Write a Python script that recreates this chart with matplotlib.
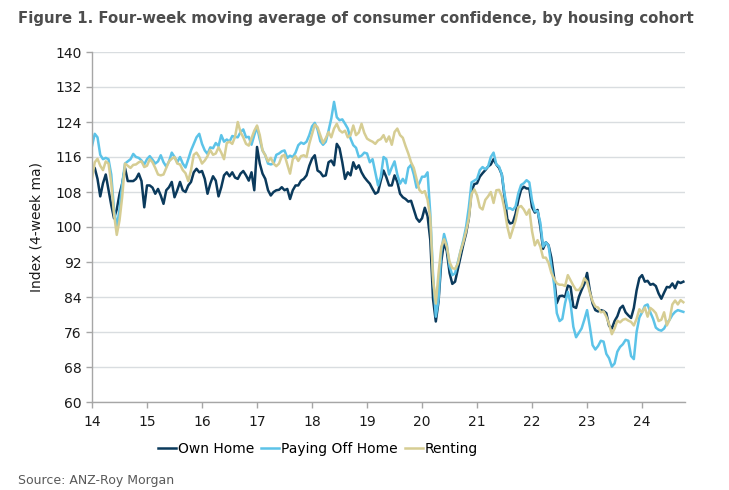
"""Four-week moving average of consumer confidence by housing cohort (ANZ-Roy Morgan)."""
import matplotlib
matplotlib.use("Agg")
import matplotlib.pyplot as plt  # noqa: E402
import numpy as np  # noqa: E402

# index values, one row per year (14 .. 24), sampled every 0.05 of a year
own_home = [
    114, 113.5, 111, 107, 110, 112, 108.5, 105, 102, 104, 107.5, 110, 113.5, 110.5, 110.5, 110.5, 111, 112.2, 110.5, 104.5,
    109.5, 109.5, 109, 107.6, 108.7, 107.2, 105.3, 108.4, 109.1, 110.3, 106.8, 108.4, 110.3, 108.4, 108, 109.5, 110.3, 112.5, 113.3, 112.5,
    112.8, 111, 107.6, 109.9, 111.6, 110.6, 107, 109.1, 111.8, 112.5, 111.6, 112.5, 111.3, 111, 112.2, 112.8, 111.8, 110.6, 112.5, 108.4,
    118.3, 114.5, 112.2, 111, 108.4, 107.2, 108, 108.4, 108.5, 109.1, 108.4, 108.7, 106.4, 108.4, 109.5, 109.5, 110.6, 111, 111.8, 114,
    115.6, 116.4, 112.9, 112.5, 111.6, 111.8, 114.8, 115.2, 114.1, 119, 118, 114.8, 111, 112.5, 111.8, 114.8, 113.3, 114.1, 112.5, 111.4,
    110.6, 109.9, 108.7, 107.6, 108, 110.6, 112.9, 111.4, 109.5, 109.5, 111.8, 110.3, 107.6, 106.8, 106.4, 105.8, 106, 104, 102, 101.2,
    102, 104.4, 102.5, 97, 83.5, 78.4, 83, 92.2, 96.5, 94.5, 89.5, 87, 87.5, 90.3, 93, 96, 98.5, 102, 108.3, 109.8,
    110, 111.5, 112.3, 113, 113.8, 114.3, 115.5, 114.3, 113.5, 112, 107, 101.8, 100.8, 101, 103, 106.2, 108.5, 109.2, 108.8, 108.8,
    104.5, 103.3, 103.9, 100, 95, 96.5, 95.8, 93, 88.5, 82.6, 84.2, 84.3, 84, 86.6, 86.3, 81.8, 81.5, 84, 85.6, 87,
    89.5, 85.5, 82.5, 81, 80.7, 81, 80.8, 80.3, 77.4, 76.8, 78.5, 79.6, 81.4, 82, 80.5, 79.8, 79.2, 81.5, 85.5, 88.3,
    89, 87.5, 87.7, 86.8, 87, 86.5, 84.8, 83.6, 85, 86.3, 86.2, 87.1, 86, 87.5, 87.2, 87.5,
]
paying_off = [
    118.5, 121.3, 120.5, 116.5, 115.5, 115.8, 115.5, 112, 104, 100, 104, 110, 114.5, 115, 115.5, 116.7, 116, 115.8, 115.2, 114.3,
    115.5, 116.2, 115.4, 114.5, 115, 116.4, 114.8, 113.8, 115, 117, 116, 114.8, 116, 114.5, 113.6, 115.5, 117.5, 119, 120.5, 121.3,
    119, 117.5, 116.7, 118.2, 118, 119.2, 118.5, 121, 119.5, 120, 119.5, 120.8, 120.6, 120.5, 121.7, 122.3, 120.5, 120.6, 118.8, 121,
    122.9, 120, 117.5, 116.4, 114.5, 114.3, 114.5, 116.5, 116.8, 117.3, 117.5, 115.8, 116.3, 116, 117, 118.7, 119.3, 119, 119.5, 121,
    123, 123.8, 122.3, 119.6, 118.8, 119.5, 122, 124.8, 128.6, 125.1, 124.4, 124.6, 123.6, 122.5, 120.2, 118.7, 118.1, 116, 116.3, 117,
    116.8, 114.8, 115.5, 112.5, 109.5, 111.5, 116, 115.5, 112, 113.6, 115, 112, 109.9, 111, 110, 113.5, 114.2, 112, 109, 110,
    111.5, 111.5, 112.5, 103, 89, 79.5, 83.5, 94.5, 98.4, 96, 91, 89, 89.4, 92, 94.5, 97, 100, 104.5, 110.2, 110.6,
    111, 113, 113.7, 113.2, 113.8, 116, 117, 114.3, 113.8, 112, 107.5, 104.2, 104.3, 103.9, 104.7, 107.7, 109.6, 110, 110.7, 110.2,
    106, 103.6, 103.6, 101, 95.5, 96.5, 95.7, 91, 87, 80.3, 78.5, 79, 82.6, 85.2, 82.5, 77.2, 74.8, 75.8, 76.8, 78.8,
    81, 77.2, 73, 72, 72.8, 74, 73.8, 71, 70, 68.1, 68.8, 71.5, 72.6, 73.2, 74.2, 74, 70.5, 69.8, 76, 79.3,
    80.5, 82, 82.3, 80.5, 79, 77, 76.5, 76.3, 76.8, 78, 78.8, 79.9, 80.6, 81, 80.8, 80.6,
]
renting = [
    111, 114.8, 115.6, 114, 113, 115, 114.5, 110, 103, 98.2, 101.5, 107, 114.5, 114, 113.5, 114.2, 114.3, 114.8, 115, 113.7,
    114, 115.5, 114.8, 113.5, 112, 111.8, 112, 113.5, 115, 115.6, 116, 114.5, 114.3, 113, 112.3, 110.5, 113, 116.5, 117, 116,
    114.5, 115.2, 116.2, 117.6, 116.5, 116.8, 118.2, 117, 115.5, 119.2, 119.5, 119, 120.6, 124, 121.7, 120.5, 119, 118.6, 120.3, 122,
    123.2, 121, 117.5, 116.4, 115, 115.8, 114.5, 113.9, 114.5, 116.2, 116.5, 114.3, 112.2, 115.5, 116.2, 115.1, 116.2, 116.4, 116, 119,
    121.2, 123.4, 122.8, 121, 119.2, 120.3, 121.7, 120.5, 122.5, 123.6, 122.1, 121.6, 122, 120.5, 121, 123.2, 121, 121.6, 123.6, 121.5,
    120.2, 119.8, 119.5, 119, 119.8, 120.1, 121, 119.5, 120.7, 118.8, 121.7, 122.5, 121, 120.4, 118.5, 116.8, 114.8, 113.5, 111, 108.5,
    107.8, 108.2, 106.2, 102, 88, 82.5, 89.5, 95.5, 97.2, 95.5, 92, 90.6, 90.4, 91.6, 94.5, 96.5, 99, 102, 107.5, 108.6,
    107.2, 104.5, 104, 106.2, 107, 108, 105.5, 108.4, 108.5, 107, 104, 100.1, 97.5, 99.5, 101.5, 104.5, 104.8, 104, 102.8, 104,
    99, 95.8, 97, 95.5, 93, 93, 91.8, 89.5, 88.2, 87.1, 86.8, 86.8, 86.5, 89, 87.8, 86.6, 85.6, 85.6, 86.5, 88.3,
    87.5, 85, 83, 81.8, 81.6, 80.5, 80.7, 79.5, 77.8, 75.5, 76.8, 78.6, 78.2, 78.8, 79, 78.6, 78.3, 77.5, 79, 81.2,
    80.5, 81.6, 79.5, 81.5, 81, 80.3, 78.5, 78.8, 80.5, 77.5, 78.8, 82.3, 83.2, 82.3, 83.3, 82.8,
]
years = 14 + 0.05 * np.arange(len(own_home))

series_names = ["Own Home", "Paying Off Home", "Renting"]
series_colors = ["#0b3a5c", "#5cc3e8", "#d6cd93"]
year_ticks = list(range(14, 25))
index_ticks = list(range(60, 141, 8))

fig = plt.figure(figsize=(7.29, 4.90), dpi=100)
ax = fig.add_axes([92 / 729, 88 / 490, 593 / 729, 350 / 490])

for vals, name, col in zip([own_home, paying_off, renting], series_names, series_colors):
    ax.plot(years, vals, color=col, lw=1.8, label=name, solid_joinstyle="round")

ax.set_xlim(14, 24.78)
ax.set_ylim(60, 140)
ax.set_xticks(year_ticks)
ax.set_xticklabels([str(y) for y in year_ticks])
ax.set_yticks(index_ticks)
ax.grid(True, axis="y", color="#d9dde0", lw=1.0)
ax.set_axisbelow(True)
for side in ("top", "right"):
    ax.spines[side].set_visible(False)
for side in ("left", "bottom"):
    ax.spines[side].set_color("#a6a6a6")
    ax.spines[side].set_linewidth(1.0)
ax.tick_params(axis="both", colors="#a6a6a6", labelcolor="#1a1a1a", labelsize=10, length=4, width=1)
ax.tick_params(axis="x", pad=5)
ax.set_ylabel("Index (4-week ma)", fontsize=10, color="#1a1a1a", labelpad=8)

fig.text(18 / 729, 1 - 18 / 490, "Figure 1. Four-week moving average of consumer confidence, by housing cohort",
         fontsize=10.7, fontweight="bold", color="#4d4d4d", va="center", ha="left")
fig.text(18 / 729, 1 - 480 / 490, "Source: ANZ-Roy Morgan", fontsize=9, color="#595959", va="center", ha="left")

fig.legend(loc="center", bbox_to_anchor=(318 / 729, 1 - 449 / 490), ncol=3, frameon=False, fontsize=10,
           handlelength=1.3, handletextpad=0.15, columnspacing=0.5)

fig.savefig("out.png", dpi=100)
plt.close(fig)
